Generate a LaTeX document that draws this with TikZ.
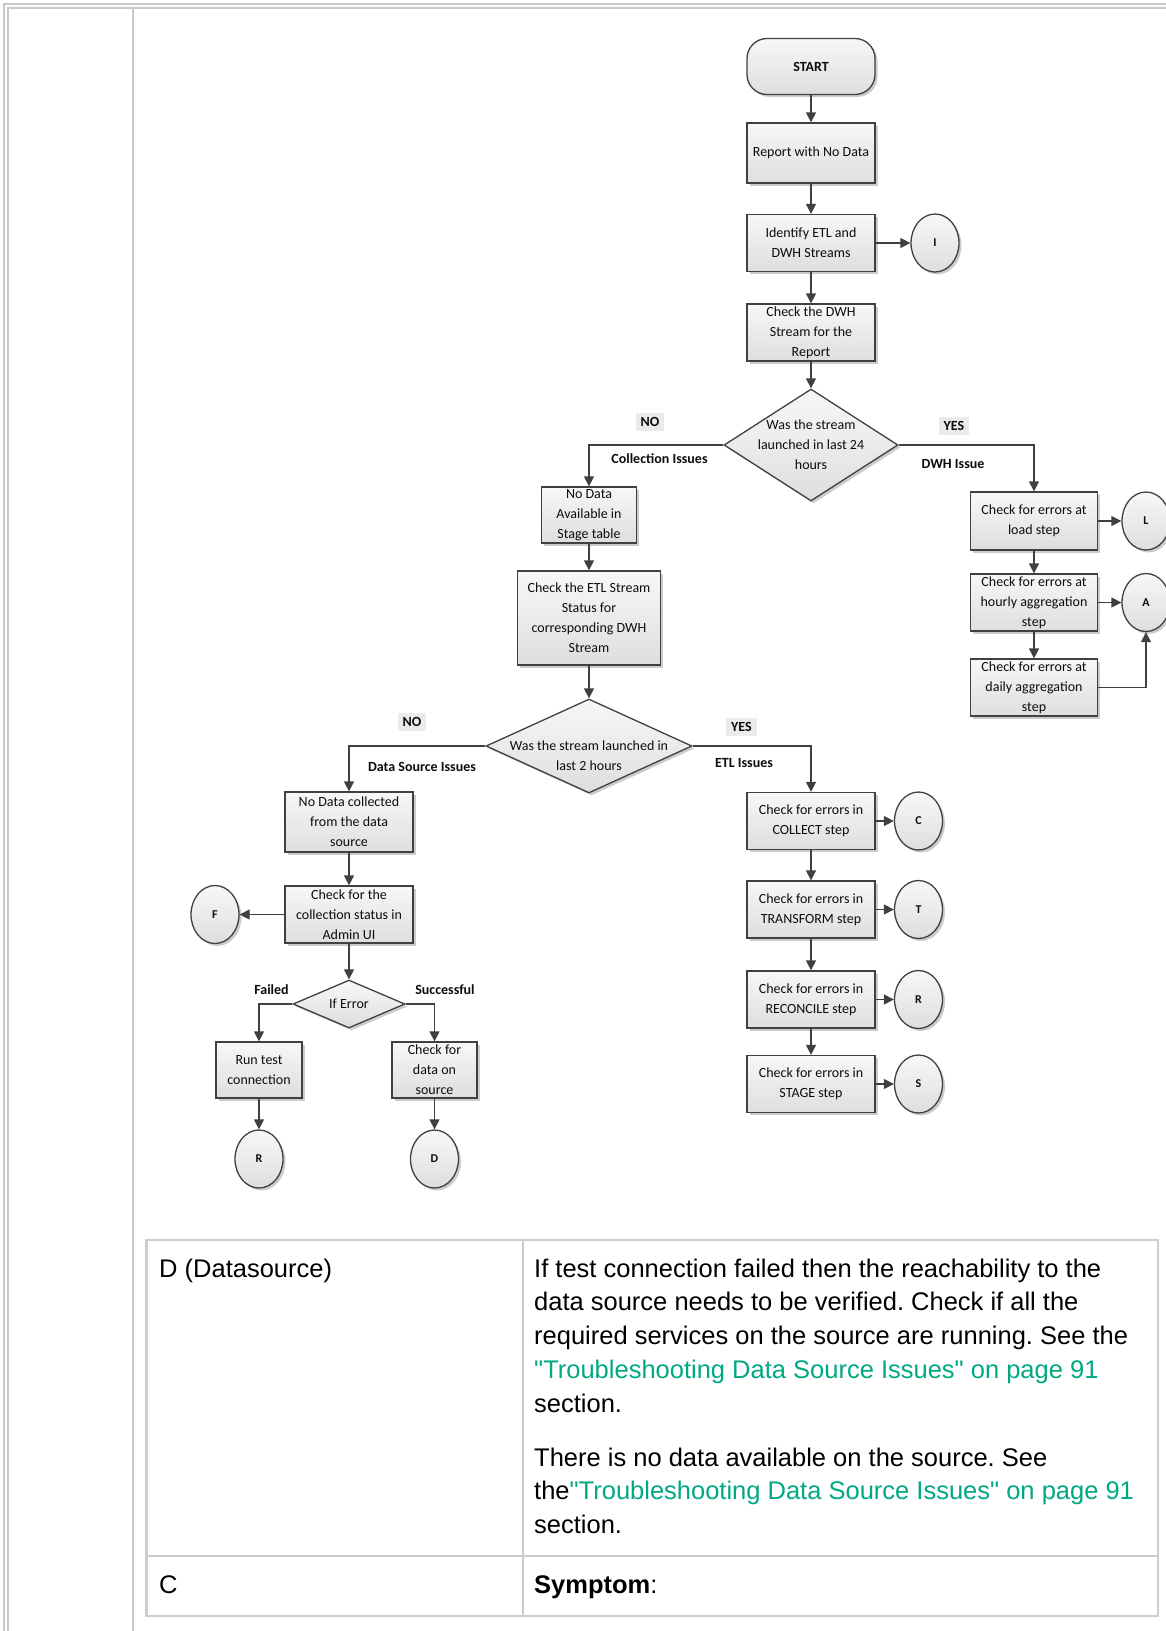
\documentclass[tikz,border=0pt]{standalone}
\usepackage{fontspec}
\setmainfont{Liberation Sans}
\newfontfamily\chartfont{Carlito}
\usetikzlibrary{shapes.geometric, shadows, arrows.meta}
\frenchspacing
\definecolor{edgegray}{HTML}{404040}
\definecolor{framegray}{HTML}{C8C8C8}
\definecolor{tablegray}{HTML}{CDCDCD}
\definecolor{tagfill}{HTML}{EBEBEB}
\definecolor{linkgreen}{HTML}{01A982}
\tikzset{chartbox/.style={draw=edgegray, line width=1.3pt, top color=white!97!black, bottom color=white!87!black, drop shadow={shadow xshift=2.5pt, shadow yshift=-2.5pt, opacity=0.2, fill=black}, font=\chartfont\fontsize{14}{20}\selectfont, align=center, inner sep=0pt, text=black!95}}
\tikzset{process/.style={chartbox, rectangle, minimum width=128pt, minimum height=57pt}}
\tikzset{terminal/.style={chartbox, rectangle, rounded corners=20pt, minimum width=128pt, minimum height=56pt, font=\chartfont\bfseries\fontsize{14}{20}\selectfont}}
\tikzset{decision/.style={chartbox, diamond}}
\tikzset{onpage/.style={chartbox, ellipse, minimum width=48pt, minimum height=58pt, font=\chartfont\bfseries\fontsize{12}{14}\selectfont}}
\tikzset{inside/.style={font=\chartfont\fontsize{14}{20}\selectfont, align=center, text=black!95}}
\tikzset{tag/.style={fill=tagfill, inner xsep=5pt, inner ysep=4pt, font=\chartfont\bfseries\fontsize{14}{16}\selectfont, text=black!95}}
\tikzset{issue/.style={inner sep=0pt, font=\chartfont\bfseries\fontsize{14}{16}\selectfont, text=black!95}}
\tikzset{flow/.style={draw=edgegray, line width=1.3pt, -{Triangle[length=10pt, width=10pt]}}}
\tikzset{rule/.style={draw=framegray, line width=2pt}}
\tikzset{cellrule/.style={draw=tablegray, line width=2.5pt}}
\tikzset{cell/.style={inner sep=0pt, anchor=base west, align=left, font=\fontsize{25.5}{33.8}\selectfont}}
\newcommand{\dsref}{\textcolor{linkgreen}{\textquotedbl Troubleshooting Data Source Issues\textquotedbl{} on page 91}}

\begin{document}
\begin{tikzpicture}[x=1pt, y=-1pt]
            \useasboundingbox[fill=white] (0,0) rectangle (1166,1631);
            \draw[rule](4,1631)--(4,4)--(1166,4);
            \draw[rule](8,1631)--(8,8)--(1166,8);
            \draw[rule](133,8)--(133,1631);

            \node[terminal] (start) at (811,66.5) {START};
            \node[process, minimum height=60pt] (report) at (811,153) {Report with No Data};
            \node[process] (identify) at (811,243) {Identify ETL and\\DWH Streams};
            \node[onpage] (circI) at (935,243) {I};
            \node[process] (checkdwh) at (811,332.5) {Check the DWH\\Stream for the\\Report};
            \node[decision, minimum width=174pt, minimum height=112pt, label={[inside]center:Was the stream\\launched in last 24\\hours}] (dec24) at (811,445) {};

            \node[process, minimum width=95pt, minimum height=56pt] (nostage) at (589,515) {No Data\\Available in\\Stage table};
            \node[process, minimum width=143pt, minimum height=94pt] (checketl) at (589,618) {Check the ETL Stream\\Status for\\corresponding DWH\\Stream};
            \node[decision, minimum width=206pt, minimum height=94pt, label={[inside, yshift=-10pt]center:Was the stream launched in\\last 2 hours}] (dec2) at (589,746) {};

            \node[process, minimum width=127pt, minimum height=58pt] (loadstep) at (1034,521) {Check for errors at\\load step};
            \node[onpage] (circL) at (1146,521) {L};
            \node[process, minimum width=127pt] (hourly) at (1034,602.5) {Check for errors at\\hourly aggregation\\step};
            \node[onpage] (circA) at (1146,602.5) {A};
            \node[process, minimum width=127pt] (daily) at (1034,687.5) {Check for errors at\\daily aggregation\\step};

            \node[process] (collect) at (811,821) {Check for errors in\\COLLECT step};
            \node[onpage] (circC) at (918.5,821) {C};
            \node[process] (transform) at (811,909.5) {Check for errors in\\TRANSFORM step};
            \node[onpage] (circT) at (918.5,909.5) {T};
            \node[process] (reconcile) at (811,999.5) {Check for errors in\\RECONCILE step};
            \node[onpage] (circR) at (918.5,999.5) {R};
            \node[process] (stage) at (811,1084) {Check for errors in\\STAGE step};
            \node[onpage] (circS) at (918.5,1084) {S};

            \node[process, minimum height=60pt] (nodata) at (349,822) {No Data collected\\from the data\\source};
            \node[process] (adminui) at (349,914.5) {Check for the\\collection status in\\Admin UI};
            \node[onpage] (circF) at (215,914.5) {F};
            \node[decision, minimum width=112pt, minimum height=48pt, label={[inside]center:If Error}] (iferror) at (349,1004) {};
            \node[process, minimum width=86pt, minimum height=56pt] (runtest) at (259,1070) {Run test\\connection};
            \node[process, minimum width=85pt, minimum height=56pt] (datasrc) at (434.5,1070) {Check for\\data on\\source};
            \node[onpage] (circRr) at (259,1159) {R};
            \node[onpage] (circD) at (434.5,1159) {D};

            \node[tag] (no24) at (650,422) {NO};
            \node[tag] (yes24) at (954,426) {YES};
            \node[issue] (collissue) at (659.5,459) {Collection Issues};
            \node[issue] (dwhissue) at (953,464) {DWH Issue};
            \node[tag] (no2) at (412,722) {NO};
            \node[tag] (yes2) at (741.5,727) {YES};
            \node[issue] (dsissue) at (422,766.5) {Data Source Issues};
            \node[issue] (etlissue) at (744,763.5) {ETL Issues};
            \node[issue] (failed) at (271.5,990) {Failed};
            \node[issue] (success) at (445,990) {Successful};

            \draw[flow](start)--(report);
            \draw[flow](report)--(identify);
            \draw[flow](identify)--(circI);
            \draw[flow](identify)--(checkdwh);
            \draw[flow](checkdwh)--(dec24);
            \draw[flow](dec24.west)-|(nostage.north);
            \draw[flow](dec24.east)-|(loadstep.north);
            \draw[flow](nostage)--(checketl);
            \draw[flow](checketl)--(dec2);
            \draw[flow](loadstep)--(circL);
            \draw[flow](loadstep)--(hourly);
            \draw[flow](hourly)--(circA);
            \draw[flow](hourly)--(daily);
            \draw[flow](daily.east)-|(circA.south);
            \draw[flow](dec2.east)-|(collect.north);
            \draw[flow](collect)--(circC);
            \draw[flow](collect)--(transform);
            \draw[flow](transform)--(circT);
            \draw[flow](transform)--(reconcile);
            \draw[flow](reconcile)--(circR);
            \draw[flow](reconcile)--(stage);
            \draw[flow](stage)--(circS);
            \draw[flow](dec2.west)-|(nodata.north);
            \draw[flow](nodata)--(adminui);
            \draw[flow](adminui)--(circF);
            \draw[flow](adminui)--(iferror);
            \draw[flow](iferror.west)-|(runtest.north);
            \draw[flow](iferror.east)-|(datasrc.north);
            \draw[flow](runtest)--(circRr);
            \draw[flow](datasrc)--(circD);

            \draw[cellrule](146.5,1240) rectangle (1158,1616);
            \draw[cellrule](523,1240)--(523,1616);
            \draw[cellrule](146.5,1556)--(1158,1556);
            \node[cell] (dname) at (159,1277) {D (Datasource)};
            \node[cell] (dtext) at (534,1412.2) {If test connection failed then the reachability to the\\data source needs to be verified. Check if all the\\required services on the source are running. See the\\\dsref\\section.};
            \node[cell] (dmore) at (534,1533.6) {There is no data available on the source. See\\the\dsref\\section.};
            \node[cell] (cname) at (159,1593) {C};
            \node[cell] (ctext) at (534,1593) {\textbf{Symptom}:};
\end{tikzpicture}
\end{document}
